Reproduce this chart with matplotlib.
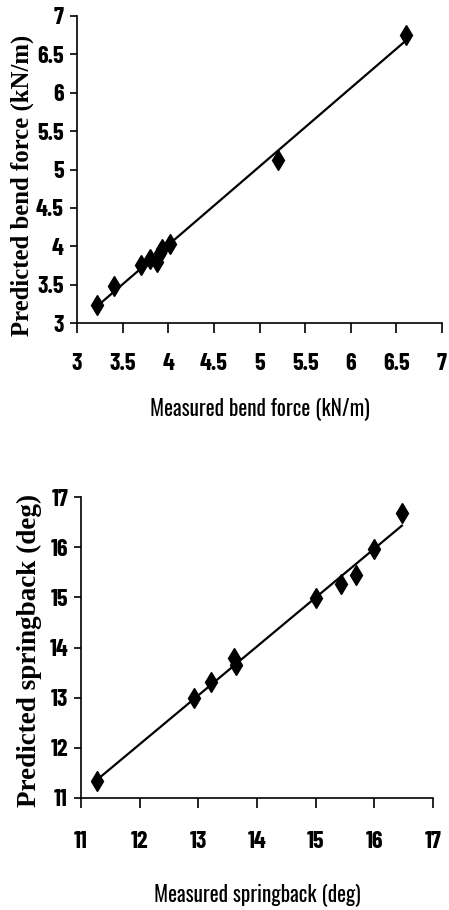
import numpy as np
import matplotlib.pyplot as plt
from matplotlib import font_manager as fm
from matplotlib.textpath import TextPath

# bend force (kN/m)
bend_measured = [3.22, 3.40, 3.70, 3.80, 3.88, 3.91, 3.93, 4.02, 5.20, 6.60]
bend_predicted = [3.23, 3.48, 3.75, 3.83, 3.79, 3.91, 3.96, 4.03, 5.13, 6.75]
bend_ticks = [3, 3.5, 4, 4.5, 5, 5.5, 6, 6.5, 7]

# springback (deg)
spring_measured = [11.28, 12.93, 13.22, 13.60, 13.65, 15.00, 15.44, 15.68, 16.00, 16.47]
spring_predicted = [11.33, 12.99, 13.31, 13.79, 13.65, 14.98, 15.26, 15.44, 15.97, 16.68]
spring_ticks = [11, 12, 13, 14, 15, 16, 17]

# condensed families; ticks want one that really has a bold face
cands = ['Oswald', 'Barlow Condensed', 'Roboto Condensed', 'Fira Sans Condensed',
         'IBM Plex Sans Condensed', 'Archivo Narrow', 'PT Sans Narrow', 'Saira Condensed',
         'Encode Sans Condensed', 'Fjalla One', 'Antonio']
faces = {}
for f in fm.fontManager.ttflist:
    if f.style == 'normal':
        faces.setdefault(f.name, set()).add(int(f.weight))
bold_narrow = next((n for n in cands if any(w >= 600 for w in faces.get(n, []))), 'DejaVu Sans')
reg_narrow = next((n for n in cands if 400 in faces.get(n, [])), 'DejaVu Sans')

fig = plt.figure(figsize=(4.49, 9.10), dpi=100)
W, H = 449, 910
PX = 72 / 100  # points per pixel


def fit_size(text, prop, px, what='height'):
    # font size (pt) that gives the glyph box the wanted pixel extent
    ext = TextPath((0, 0), text, size=100, prop=prop).get_extents()
    v = ext.height if what == 'height' else ext.width
    return 100 * px * PX / v


tick_prop = fm.FontProperties(family=bold_narrow, weight='bold')
tick_prop.set_size(fit_size('7', tick_prop, 17))
xlab_prop = fm.FontProperties(family=reg_narrow, weight='normal')
ylab_prop = fm.FontProperties(family='Liberation Serif', weight='bold')


def panel(box, xs, ys, ticks, xlabel, ylabel, xlab_w, ylab_w, xtick_y, xlab_y, ylab_x, ylab_y):
    l, t, r, b = box
    ax = fig.add_axes([l / W, 1 - b / H, (r - l) / W, (b - t) / H])
    ax.plot(xs, ys, 'kd', ms=10)
    k, c = np.polyfit(xs, ys, 1)
    xl = np.array([min(xs), max(xs)])
    ax.plot(xl, k * xl + c, 'k-', lw=1.6)
    ax.set_xlim(ticks[0], ticks[-1])
    ax.set_ylim(ticks[0], ticks[-1])
    ax.set_xticks(ticks)
    ax.set_yticks(ticks)
    ax.set_xticklabels(['%g' % v for v in ticks], fontproperties=tick_prop, va='center')
    ax.set_yticklabels(['%g' % v for v in ticks], fontproperties=tick_prop)
    for s in ['top', 'right']:
        ax.spines[s].set_visible(False)
    for s in ['left', 'bottom']:
        ax.spines[s].set_linewidth(1.2)
    ax.tick_params(axis='x', direction='out', length=10 * PX, width=1.2,
                   pad=(xtick_y - b - 10) * PX)
    ax.tick_params(axis='y', direction='out', length=7 * PX, width=1.2, pad=6 * PX)
    xp = xlab_prop.copy()
    xp.set_size(fit_size(xlabel, xp, xlab_w, 'width'))
    ax.set_xlabel(xlabel, fontproperties=xp, va='center')
    ax.xaxis.set_label_coords(0.5, -(xlab_y - b) / (b - t))
    yp = ylab_prop.copy()
    yp.set_size(fit_size(ylabel, yp, ylab_w, 'width'))
    ax.set_ylabel(ylabel, fontproperties=yp, va='center')
    ax.yaxis.set_label_coords((ylab_x - l) / (r - l), (b - ylab_y) / (b - t))
    return ax


panel((77, 16, 442, 323), bend_measured, bend_predicted, bend_ticks,
      'Measured bend force (kN/m)', 'Predicted bend force (kN/m)',
      218, 300, 364, 409, 22, 185)
panel((81, 497, 433, 798), spring_measured, spring_predicted, spring_ticks,
      'Measured springback (deg)', 'Predicted springback (deg)',
      205, 312, 842, 895, 29, 650)

fig.savefig('out.png', dpi=100)
